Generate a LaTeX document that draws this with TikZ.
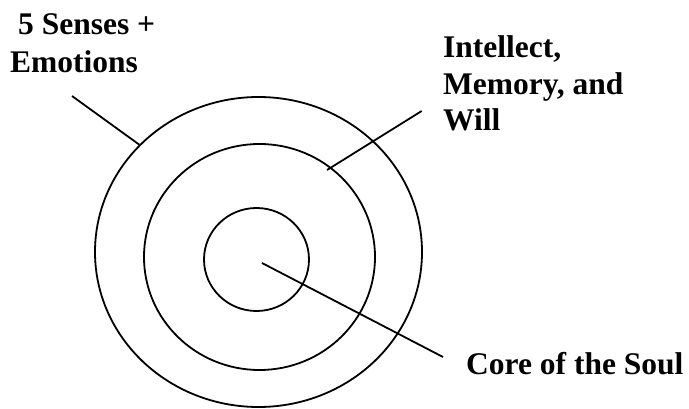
\documentclass[tikz,border=0pt]{standalone}
\usepackage{fontspec}
\setmainfont{Liberation Serif}
\usetikzlibrary{shapes.geometric}

\begin{document}
\begin{tikzpicture}[
    x=1pt, y=-1pt,  % Repère en pixels, y vers le bas
    % Styles des anneaux, des textes et des traits
    ring/.style={draw, ellipse, line width=1.8pt, inner sep=0pt},
    soultext/.style={font=\fontsize{31.5}{36.5}\selectfont\bfseries, inner sep=0pt, align=left, anchor=base west},
    connector/.style={draw, line width=1.8pt}
]
\useasboundingbox (0,0) rectangle (689,409);
% Anneaux
\node[ring, minimum width=327pt, minimum height=310pt] (outer) at (258.5,252) {};
\node[ring, minimum width=231pt, minimum height=226pt] (middle) at (259.5,257) {};
\node[ring, minimum width=105pt, minimum height=103pt] (inner) at (256.5,259.5) {};
% Etiquettes (ancrées sur la dernière ligne)
\node[soultext] (senses) at (10,73) {\hspace*{8pt}5 Senses +\\[1.5pt]Emotions};
\node[soultext] (intellect) at (443,131) {Intellect,\\Memory, and\\Will};
\node[soultext] (core) at (466,374) {Core of the Soul};
% Extrémités libres des traits
\coordinate (sensesEnd) at (72,96);
\coordinate (intellectEnd) at (421.7,111);
\coordinate (intellectTip) at (327,170);
\coordinate (soulCentre) at (262,263);
\coordinate (coreEnd) at (443,357);
% Traits
\draw[connector] (sensesEnd) -- (outer.138.9);
\draw[connector] (intellectEnd) -- (intellectTip);
\draw[connector] (soulCentre) -- (coreEnd);
\end{tikzpicture}
\end{document}
